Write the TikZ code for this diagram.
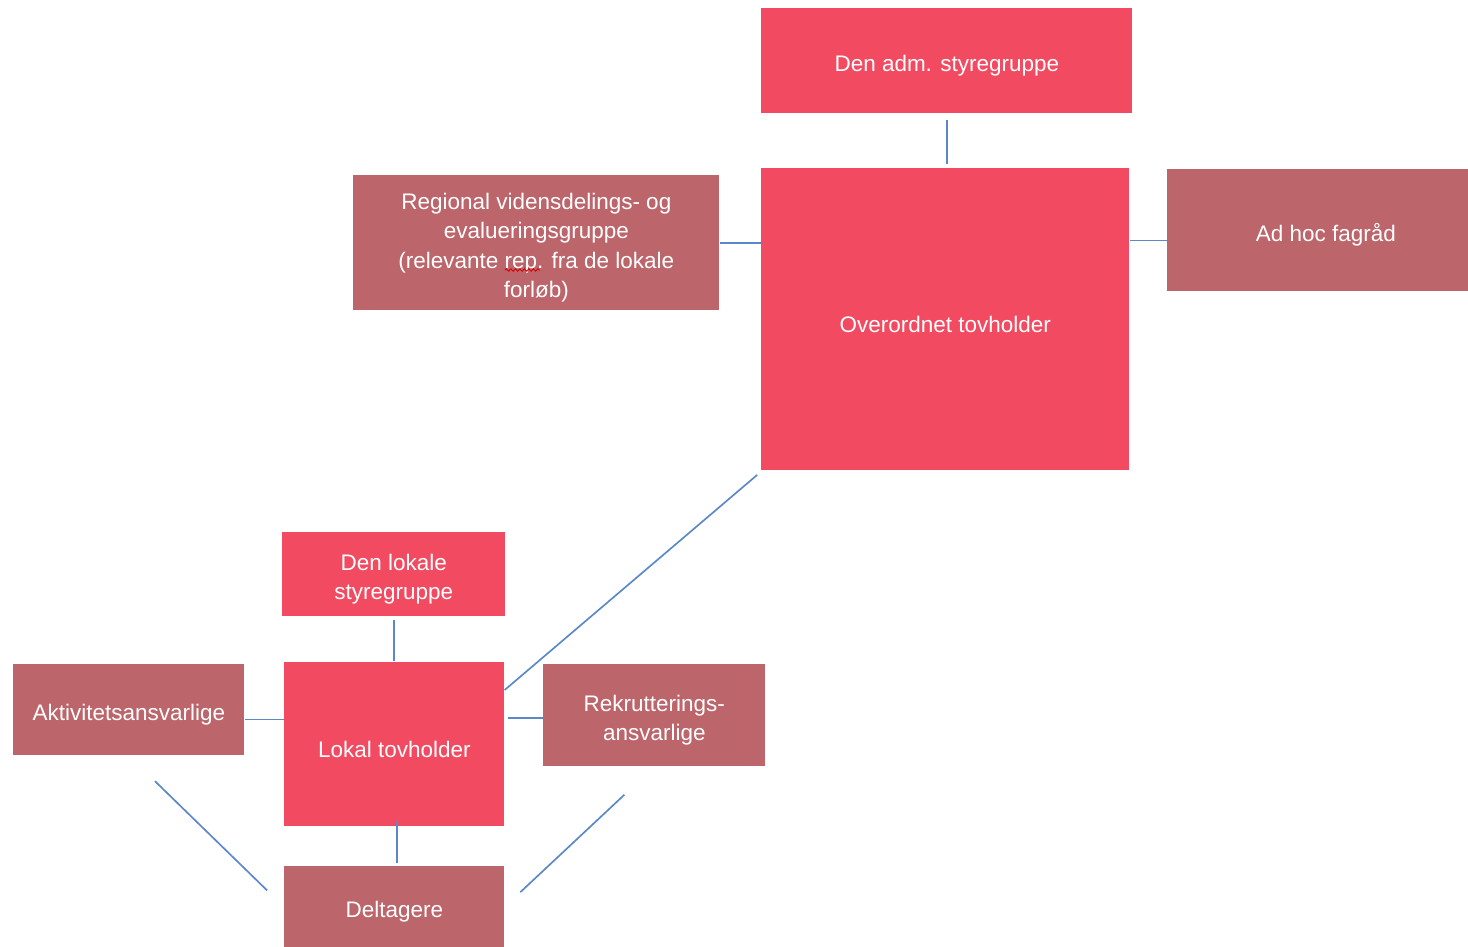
\documentclass[tikz,border=0pt]{standalone}
\usepackage{fontspec}
\setmainfont{Liberation Sans}
\usepackage{tikz}
\usetikzlibrary{calc,positioning,decorations.pathmorphing}
\definecolor{colorhot}{HTML}{F24A60}
\definecolor{colorrose}{HTML}{BC656B}
\definecolor{colorlink}{HTML}{5A88C8}
\newcommand\lift{\rule{0pt}{15pt}}
\tikzset{
  unit/.style={rectangle, draw=none, inner sep=0pt, text=white, align=center,
    font=\fontsize{12.8}{16.8}\selectfont, anchor=north west},
  hotunit/.style={unit, fill=colorhot},
  roseunit/.style={unit, fill=colorrose},
  link/.style={colorlink, line width=0.95pt}
}

\begin{document}
\begin{tikzpicture}[x=0.02cm, y=-0.02cm]
\useasboundingbox (0,0) rectangle (1468,947);

% top level
\node[hotunit, minimum width=7.42cm, minimum height=2.1cm](adm) at (761,8)
{\lift Den adm. styregruppe};

\node[hotunit, minimum width=7.36cm, minimum height=6.04cm](over) at (761,168)
{\lift Overordnet tovholder};

\node[roseunit, minimum width=7.32cm, minimum height=2.7cm](reg) at (353,175)
{\lift Regional vidensdelings- og\\evalueringsgruppe\\(relevante rep. fra de lokale\\forløb)};

\node[roseunit, minimum width=6.34cm, minimum height=2.44cm](adhoc) at (1167,169)
{\lift Ad hoc fagråd};

% local level
\node[hotunit, minimum width=4.46cm, minimum height=1.68cm](lokstyr) at (282,532)
{\lift Den lokale\\styregruppe};

\node[hotunit, minimum width=4.4cm, minimum height=3.28cm](lok) at (284,662)
{\lift Lokal tovholder};

\node[roseunit, minimum width=4.62cm, minimum height=1.82cm](akt) at (13,664)
{\lift Aktivitetsansvarlige};

\node[roseunit, minimum width=4.44cm, minimum height=2.04cm](rek) at (543,664)
{\lift Rekrutterings-\\ansvarlige};

\node[roseunit, minimum width=4.4cm, minimum height=1.62cm](delt) at (284,866)
{\lift Deltagere};

% spell check mark
\draw[red!85!black, line width=0.5pt, decorate,
  decoration={snake, segment length=0.09cm, amplitude=0.025cm}] (505,270) -- (540,270);

\draw[link, shorten <=0.12cm, shorten >=0.08cm] (adm.south) -- (adm.south |- over.north);
\draw[link] (reg.east) -- (reg.east -| over.west);
\draw[link] ([yshift=-0.2cm]adhoc.west) -- ([yshift=-0.2cm]adhoc.west -| over.east);
\draw[link, shorten <=0.1cm] ([yshift=-0.02cm]over.south west) -- ([yshift=-0.56cm]lok.north east);

\draw[link, shorten <=0.07cm, shorten >=0.03cm] (lokstyr.south) -- (lokstyr.south |- lok.north);
\draw[link] ([yshift=-0.19cm]akt.east) -- ([yshift=-0.19cm]akt.east -| lok.west);
\draw[link, shorten >=0.06cm] ([yshift=-0.05cm]rek.west) -- ([yshift=-0.05cm]rek.west -| lok.east);
\draw[link, shorten <=-0.12cm, shorten >=0.06cm] ([xshift=0.06cm]lok.south) -- ([xshift=0.06cm]lok.south |- delt.north);

\draw[link, shorten <=0.73cm, shorten >=0.47cm] (akt.south) -- (delt.west);
\draw[link, shorten <=0.82cm, shorten >=0.43cm] (rek.south) -- (delt.east);
\end{tikzpicture}
\end{document}
